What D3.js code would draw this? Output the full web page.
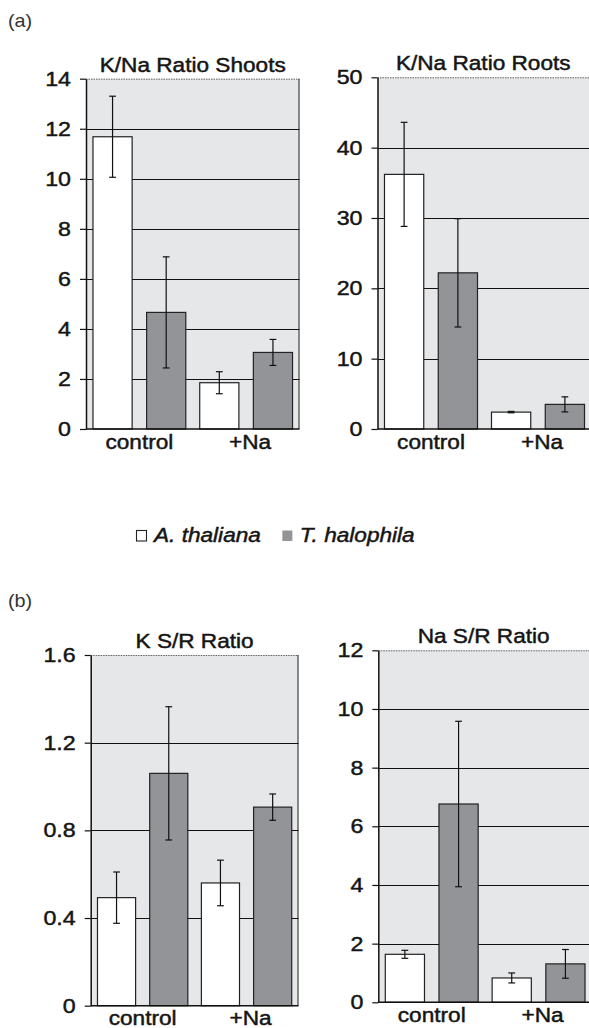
<!DOCTYPE html>
<html><head><meta charset="utf-8">
<script src="https://cdn.jsdelivr.net/npm/d3@7"></script>
<style>
html,body{margin:0;padding:0;background:#fff;}
svg{display:block;}
text{font-family:"Liberation Sans",Arial,sans-serif;fill:#151515;stroke:#151515;stroke-width:0.45px;}
</style></head>
<body>
<svg id="c" width="589" height="1028"></svg>
<script>
// ---- data ----
const categories = ["control", "+Na"];
const seriesNames = ["A. thaliana", "T. halophila"];
const panelTitles = ["K/Na Ratio Shoots", "K/Na Ratio Roots", "K S/R Ratio", "Na S/R Ratio"];
const sectionLabels = ["(a)", "(b)"];

const kNaShootsA = [11.68, 1.85];  const kNaShootsAErr = [1.62, 0.44];
const kNaShootsT = [4.66, 3.06];   const kNaShootsTErr = [2.22, 0.52];
const kNaRootsA = [36.2, 2.4];     const kNaRootsAErr = [7.4, 0.1];
const kNaRootsT = [22.2, 3.5];     const kNaRootsTErr = [7.7, 1.07];
const kSRA = [0.493, 0.56];        const kSRAErr = [0.117, 0.104];
const kSRT = [1.06, 0.906];        const kSRTErr = [0.304, 0.06];
const naSRA = [1.636, 0.83];       const naSRAErr = [0.136, 0.17];
const naSRT = [6.76, 1.31];        const naSRTErr = [2.82, 0.49];

const yMax = [14, 50, 1.6, 12];
const yTicks = [[0,2,4,6,8,10,12,14],[0,10,20,30,40,50],[0,0.4,0.8,1.2,1.6],[0,2,4,6,8,10,12]];

// ---- layout / style ----
const SX = 1.16;
const FS = 19.5;
const colors = ["#ffffff", "#939498"];
const panels = [
  {x0: 86,    x1: 299.5, y0: 78.7,  y1: 429,    a: kNaShootsA, ae: kNaShootsAErr, t: kNaShootsT, te: kNaShootsTErr},
  {x0: 377.5, x1: 591.5, y0: 77.3,  y1: 429,    a: kNaRootsA,  ae: kNaRootsAErr,  t: kNaRootsT,  te: kNaRootsTErr},
  {x0: 90.7,  x1: 298.5, y0: 655,   y1: 1005.7, a: kSRA,       ae: kSRAErr,       t: kSRT,       te: kSRTErr},
  {x0: 378.3, x1: 592,   y0: 650.3, y1: 1002.3, a: naSRA,      ae: naSRAErr,      t: naSRT,      te: naSRTErr}
];

const svg = d3.select("#c");

function stext(parent, x, y, str, anchor, opts) {
  opts = opts || {};
  return parent.append("text")
    .attr("transform", `translate(${x},${y}) scale(${opts.sx || SX},1)`)
    .attr("text-anchor", anchor || "start")
    .style("font-size", (opts.fs || FS) + "px")
    .style("font-style", opts.italic ? "italic" : "normal")
    .text(str);
}

panels.forEach((p, i) => {
  const g = svg.append("g");
  const x = d3.scaleBand().domain(categories).range([p.x0, p.x1]).paddingInner(0).paddingOuter(0);
  const xs = d3.scaleBand().domain(seriesNames).range([0, x.bandwidth()]).paddingInner(0.27).paddingOuter(0.13);
  const y = d3.scaleLinear().domain([0, yMax[i]]).range([p.y1, p.y0]);

  // background
  g.append("rect").attr("x", p.x0).attr("y", p.y0).attr("width", p.x1 - p.x0).attr("height", p.y1 - p.y0)
    .attr("fill", "#e6e7e9");
  // top dotted border and right border
  g.append("line").attr("x1", p.x0).attr("x2", p.x1).attr("y1", p.y0 + 0.5).attr("y2", p.y0 + 0.5)
    .attr("stroke", "#666").attr("stroke-dasharray", "1.5,1");
  g.append("line").attr("x1", p.x1 - 0.5).attr("x2", p.x1 - 0.5).attr("y1", p.y0).attr("y2", p.y1)
    .attr("stroke", "#444").attr("stroke-width", 1.2);
  // gridlines
  g.selectAll(".grid").data(yTicks[i].filter(v => v > 0 && v < yMax[i])).join("line")
    .attr("x1", p.x0).attr("x2", p.x1)
    .attr("y1", d => Math.round(y(d)) + 0.5).attr("y2", d => Math.round(y(d)) + 0.5)
    .attr("stroke", "#111").attr("stroke-width", 1.1);

  // bars
  const rows = [];
  categories.forEach((c, ci) => {
    rows.push({c, s: seriesNames[0], v: p.a[ci], e: p.ae[ci], col: colors[0]});
    rows.push({c, s: seriesNames[1], v: p.t[ci], e: p.te[ci], col: colors[1]});
  });
  g.selectAll(".bar").data(rows).join("rect")
    .attr("x", d => x(d.c) + xs(d.s))
    .attr("y", d => y(d.v))
    .attr("width", xs.bandwidth())
    .attr("height", d => y(0) - y(d.v))
    .attr("fill", d => d.col)
    .attr("stroke", "#222").attr("stroke-width", 1.2);

  // error bars
  const cap = 3.4;
  rows.forEach(d => {
    const cx = x(d.c) + xs(d.s) + xs.bandwidth() / 2;
    const eg = g.append("g").attr("stroke", "#111").attr("stroke-width", 1.2);
    eg.append("line").attr("x1", cx).attr("x2", cx).attr("y1", y(d.v + d.e)).attr("y2", y(Math.max(0, d.v - d.e)));
    eg.append("line").attr("x1", cx - cap).attr("x2", cx + cap).attr("y1", y(d.v + d.e)).attr("y2", y(d.v + d.e));
    eg.append("line").attr("x1", cx - cap).attr("x2", cx + cap).attr("y1", y(d.v - d.e)).attr("y2", y(d.v - d.e));
  });

  // y axis
  const fmt = yMax[i] < 2 ? (d => d === 0 ? "0" : d3.format(".1f")(d)) : d3.format("d");
  const ax = g.append("g").attr("transform", `translate(${p.x0},0)`)
    .call(d3.axisLeft(y).tickValues(yTicks[i]).tickFormat(fmt).tickSize(6).tickPadding(9).tickSizeOuter(0));
  ax.select(".domain").attr("stroke", "#111").attr("stroke-width", 1.5);
  ax.selectAll(".tick line").attr("stroke", "#111").attr("stroke-width", 1.2);
  ax.selectAll(".tick text")
    .attr("x", -15 / SX)
    .attr("transform", `scale(${SX},1)`)
    .style("font-size", (FS + 0.5) + "px")
    .style("font-family", "'Liberation Sans',Arial,sans-serif")
    .attr("fill", "#151515");
  // bottom axis line
  g.append("line").attr("x1", p.x0).attr("x2", p.x1).attr("y1", p.y1).attr("y2", p.y1)
    .attr("stroke", "#111").attr("stroke-width", 1.5);

  // category labels
  categories.forEach((c, ci) => {
    stext(g, x(c) + x.bandwidth() / 2 + ci * 4, p.y1 + 19.5, c, "middle");
  });
  // title
  stext(g, (p.x0 + Math.min(p.x1, 589)) / 2, p.y0 - 7, panelTitles[i], "middle");
});

// section labels
stext(svg, 8, 27, sectionLabels[0], "start", {fs: 18, sx: 1.1}).style("fill", "#333").style("stroke", "none");
stext(svg, 8, 607, sectionLabels[1], "start", {fs: 18, sx: 1.1}).style("fill", "#333").style("stroke", "none");

// legend
const lg = svg.append("g");
let lx = 136;
const ly = 542;
seriesNames.forEach((s, si) => {
  lg.append("rect").attr("x", lx + 0.5).attr("y", ly - 11.5).attr("width", 10).attr("height", 10.5)
    .attr("fill", colors[si]).attr("stroke", si === 0 ? "#222" : "none").attr("stroke-width", 1.1);
  const t = stext(lg, lx + 18, ly, s, "start", {italic: true});
  const w = t.node().getComputedTextLength() * SX;
  lx = lx + 18 + w + 21;
});
</script>
</body></html>
